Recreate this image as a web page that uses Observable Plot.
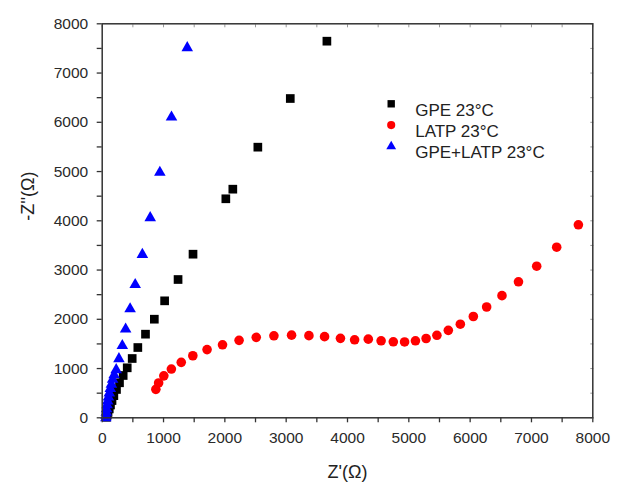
<!DOCTYPE html>
<html>
<head>
<meta charset="utf-8">
<script src="https://cdn.jsdelivr.net/npm/d3@7"></script>
<script src="https://cdn.jsdelivr.net/npm/@observablehq/plot@0.6"></script>
<style>
  html, body { margin: 0; padding: 0; background: #ffffff; }
  #chart { width: 627px; height: 491px; }
  svg { display: block; }
</style>
</head>
<body>
<div id="chart"></div>
<script>
// ---- Data (Z' in Ω, -Z'' in Ω) ----
const gpeX = [70, 80, 95, 115, 135, 160, 190, 233, 282, 342, 408, 489, 581, 706, 850, 1018, 1237, 1481, 2016, 2130, 2538, 3067, 3664];
const gpeY = [10, 50, 110, 180, 260, 350, 450, 575, 711, 859, 1015, 1204, 1427, 1698, 2002, 2375, 2808, 3322, 4447, 4642, 5495, 6483, 7647];

const latpX = [875, 920, 1005, 1128, 1289, 1478, 1710, 1962, 2232, 2512, 2800, 3088, 3371, 3626, 3885, 4116, 4339, 4548, 4747, 4931, 5108, 5282, 5458, 5644, 5840, 6052, 6269, 6519, 6788, 7085, 7411, 7765];
const latpY = [578, 707, 852, 990, 1126, 1260, 1385, 1482, 1573, 1634, 1665, 1678, 1668, 1648, 1613, 1584, 1597, 1563, 1543, 1540, 1563, 1610, 1675, 1776, 1900, 2057, 2250, 2480, 2761, 3078, 3464, 3919];

const bothX = [60, 63, 67, 72, 80, 90, 102, 116, 132, 150, 170, 195, 228, 273, 328, 382, 455, 538, 655, 783, 940, 1130, 1387];
const bothY = [0, 50, 110, 180, 260, 340, 420, 500, 590, 680, 780, 870, 975, 1198, 1465, 1800, 2210, 2705, 3315, 4061, 4981, 6104, 7513];

const seriesNames = ["GPE 23°C", "LATP 23°C", "GPE+LATP 23°C"];
const seriesColors = ["#000000", "#ff0000", "#0000ff"];
const seriesSymbols = ["square", "circle", "triangle"];
const seriesR = [4.9, 4.8, 4.3];

const xMajor = [0, 1000, 2000, 3000, 4000, 5000, 6000, 7000, 8000];
const xMinor = [500, 1500, 2500, 3500, 4500, 5500, 6500, 7500];
const yMajor = [0, 1000, 2000, 3000, 4000, 5000, 6000, 7000, 8000];
const yMinor = [500, 1500, 2500, 3500, 4500, 5500, 6500, 7500];

const xTitle = "Z'(Ω)";
const yTitle = "-Z''(Ω)";

// ---- Build tables ----
const toRows = (xs, ys) => xs.map((x, i) => ({x, y: ys[i]}));
const seriesData = [toRows(gpeX, gpeY), toRows(latpX, latpY), toRows(bothX, bothY)];

const font = "'Liberation Sans', Arial, sans-serif";
const axisColor = "#333333";

const marks = [];

// point series
seriesData.forEach((rows, i) => {
  marks.push(Plot.dot(rows, {
    x: "x", y: "y",
    symbol: () => seriesSymbols[i],
    r: seriesR[i],
    fill: seriesColors[i],
    stroke: "none"
  }));
});

// axes: bottom & left, major with labels, minor without
marks.push(Plot.axisX({anchor: "bottom", ticks: xMajor, tickSize: 5, tickPadding: 9, tickFormat: d => String(d), label: null, fontSize: 15.5, stroke: axisColor, strokeWidth: 1.3, color: "#2a2a2a"}));
marks.push(Plot.axisX({anchor: "bottom", ticks: xMinor, tickSize: 5, tickFormat: () => "", label: null, stroke: axisColor, strokeWidth: 1.3}));
marks.push(Plot.axisY({anchor: "left", ticks: yMajor, tickSize: 5, tickPadding: 9, tickFormat: d => String(d), label: null, fontSize: 15.5, stroke: axisColor, strokeWidth: 1.3, color: "#2a2a2a"}));
marks.push(Plot.axisY({anchor: "left", ticks: yMinor, tickSize: 5, tickFormat: () => "", label: null, stroke: axisColor, strokeWidth: 1.3}));
// faint inward ticks on top & right
marks.push(Plot.axisX({anchor: "top", ticks: xMajor.concat(xMinor), tickSize: -3, tickFormat: () => "", label: null, stroke: "#999", strokeWidth: 1}));
marks.push(Plot.axisY({anchor: "right", ticks: yMajor.concat(yMinor), tickSize: -3, tickFormat: () => "", label: null, stroke: "#999", strokeWidth: 1}));

marks.push(Plot.frame({stroke: axisColor, strokeWidth: 1.5}));

// axis titles
marks.push(Plot.text([xTitle], {frameAnchor: "bottom", dy: 60, text: d => d, fontSize: 18, fill: "#222", fontFamily: font}));
marks.push(Plot.text([yTitle], {frameAnchor: "left", dx: -74, rotate: -90, text: d => d, fontSize: 18, fill: "#222", fontFamily: font}));

// legend inside the frame
seriesNames.forEach((name, i) => {
  marks.push(Plot.dot([name], {frameAnchor: "top-left", dx: 289, dy: 80 + i * 21.3, symbol: () => seriesSymbols[i], r: seriesR[i] * 0.85, fill: seriesColors[i], stroke: "none"}));
  marks.push(Plot.text([name], {frameAnchor: "top-left", dx: 313, dy: 80 + i * 21.3, text: d => d, textAnchor: "start", fontSize: 17, fill: "#222", fontFamily: font}));
});

const chart = Plot.plot({
  width: 627,
  height: 491,
  marginLeft: 101.7,
  marginRight: 34.7,
  marginTop: 23.3,
  marginBottom: 73.7,
  style: {fontFamily: font, background: "#ffffff", color: "#333", overflow: "visible"},
  x: {domain: [0, 8000]},
  y: {domain: [0, 8000]},
  marks
});

document.getElementById("chart").appendChild(chart);
</script>
</body>
</html>
